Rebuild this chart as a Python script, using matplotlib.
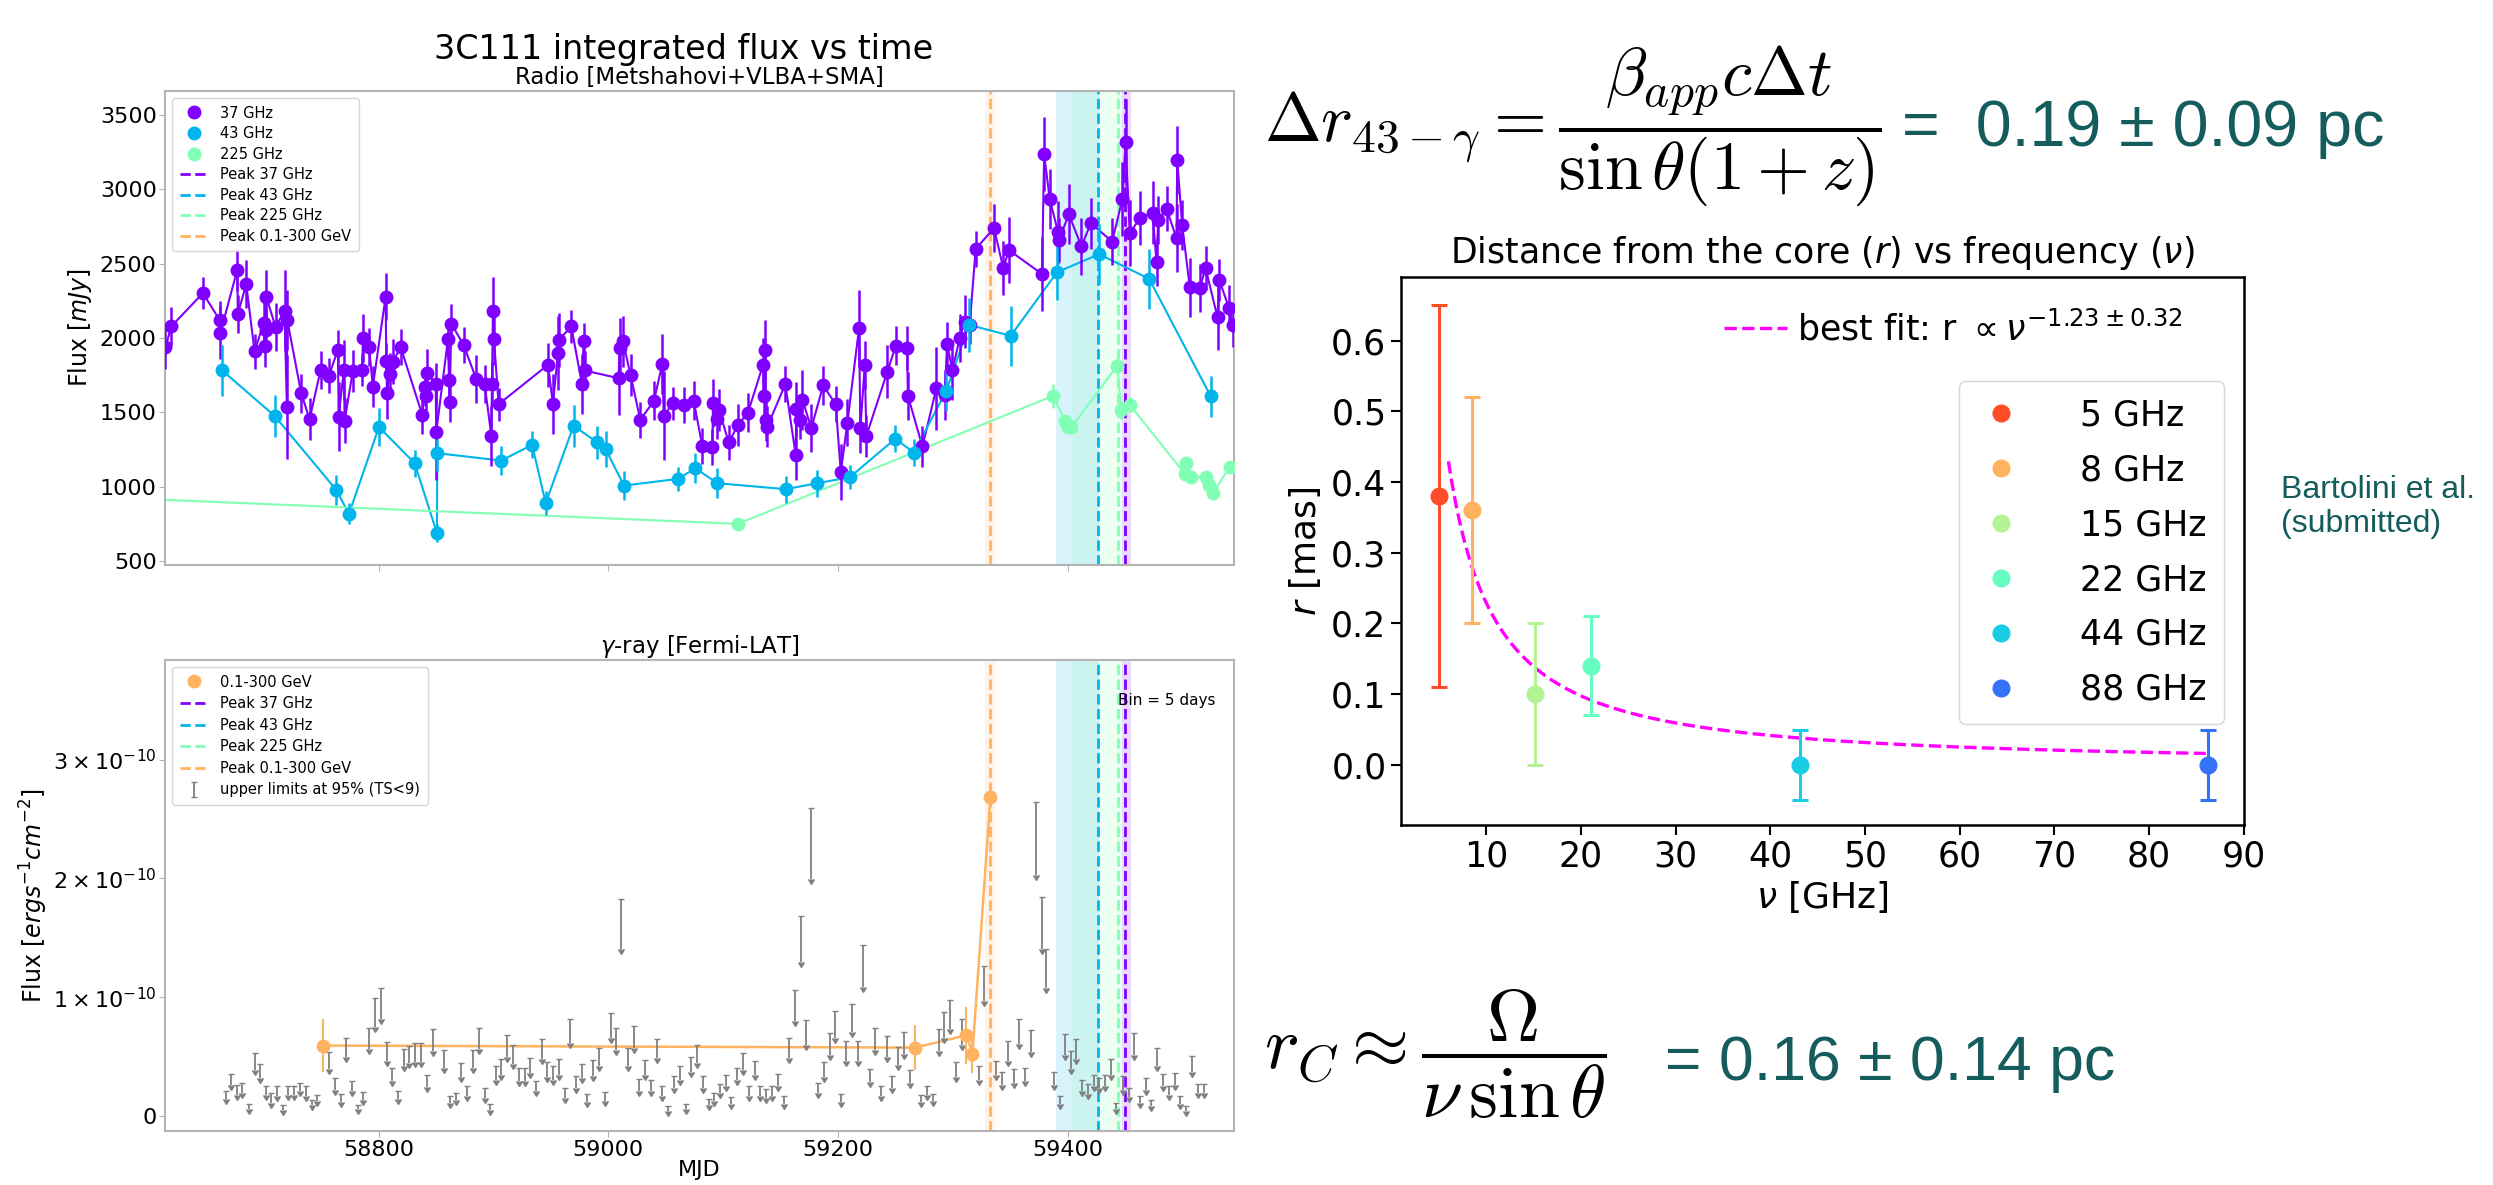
import numpy as np
import matplotlib
matplotlib.use('Agg')
import matplotlib.pyplot as plt
from matplotlib.lines import Line2D

# ---------------- radio light curves (MJD, flux in mJy) ----------------
mjd_37 = [58614.4, 58619.4, 58647.0, 58661.5, 58662.3, 58676.9, 58677.4, 58684.7, 58692.0, 58699.8,
          58700.7, 58701.6, 58702.1, 58710.3, 58718.1, 58720.1, 58720.4, 58732.6, 58739.9, 58749.5,
          58756.7, 58764.6, 58765.2, 58769.8, 58770.4, 58777.6, 58785.8, 58786.3, 58791.6, 58795.0,
          58806.1, 58806.7, 58807.3, 58809.6, 58812.5, 58819.2, 58838.0, 58840.1, 58841.5, 58842.4,
          58849.7, 58850.2, 58860.4, 58861.3, 58861.9, 58863.3, 58874.0, 58885.1, 58892.3, 58898.2,
          58898.7, 58899.6, 58900.5, 58904.5,
          58947.5, 58951.8, 58956.2, 58957.1, 58967.8, 58977.1, 58978.6, 58979.4, 59009.0, 59009.9,
          59012.8, 59019.5, 59027.9, 59039.8, 59047.1, 59048.3, 59056.4, 59065.7, 59074.4, 59081.9,
          59090.7, 59091.2, 59094.7, 59096.5, 59104.9, 59113.0, 59121.7, 59134.8, 59135.7, 59136.8,
          59137.7, 59138.6, 59154.2, 59163.2, 59163.8, 59167.3, 59169.1, 59176.9, 59187.1, 59198.1,
          59202.5, 59208.3, 59218.4, 59219.6, 59223.4, 59224.8, 59243.1, 59250.4,
          59260.2, 59261.0, 59273.6, 59285.8, 59293.0, 59295.1, 59299.7, 59306.1, 59310.5, 59314.8,
          59320.0, 59336.0, 59344.0, 59349.0, 59377.8,
          59379.6, 59384.5, 59391.8, 59392.7, 59401.1, 59412.1, 59420.3, 59438.8, 59447.8, 59450.5,
          59454.2, 59463.0, 59474.0, 59477.5, 59478.9, 59486.2, 59494.9, 59495.5, 59499.8, 59506.5,
          59515.2, 59520.2, 59530.6, 59532.1, 59540.5, 59544.3]
flux_37 = [1938, 2077, 2301, 2121, 2036, 2458, 2160, 2361, 1909, 2099,
           1947, 2054, 2278, 2072, 2184, 1534, 2121, 1628, 1453, 1785,
           1747, 1920, 1471, 1785, 1444, 1778, 1785, 1998, 1938, 1673,
           2278, 1848, 1628, 1758, 1841, 1938, 1483, 1673, 1606, 1767,
           1691, 1366, 1991, 1718, 1572, 2095, 1953, 1722, 1691, 1341,
           1691, 2178, 1991, 1554,
           1819, 1557, 1897, 1987, 2077, 1689, 1982, 1781, 1729, 1931,
           1976, 1749, 1449, 1577, 1826, 1476, 1561, 1550, 1577, 1274,
           1265, 1561, 1453, 1516, 1297, 1415, 1498, 1819, 1606, 1920,
           1449, 1404, 1689, 1214, 1521, 1449, 1583, 1393, 1680, 1554,
           1097, 1431, 2065, 1393, 1819, 1341, 1774, 1947,
           1931, 1610, 1270, 1662, 1617, 1958, 1785, 1998, 2110, 2088,
           2599, 2738, 2469, 2590, 2429,
           3235, 2933, 2709, 2659, 2832, 2615, 2771, 2648, 2933, 3314,
           2704, 2805, 2843, 2507, 2794, 2868, 2671, 3197, 2760, 2339,
           2334, 2469, 2139, 2390, 2204, 2088]
err_37 = [150, 130, 110, 130, 180, 140, 130, 160, 120, 170,
          140, 150, 180, 160, 270, 350, 200, 130, 140, 130,
          120, 130, 230, 200, 150, 140, 110, 160, 130, 140,
          160, 120, 170, 140, 150, 120, 130, 130, 110, 160,
          140, 320, 130, 150, 140, 130, 120, 160, 130, 200,
          150, 230, 170, 110,
          150, 200, 250, 180, 110, 200, 120, 130, 250, 200,
          170, 140, 120, 130, 200, 300, 110, 120, 130, 120,
          120, 160, 130, 140, 120, 140, 130, 180, 160, 200,
          140, 140, 120, 170, 180, 130, 200, 160, 130, 120,
          190, 160, 260, 170, 160, 140, 180, 130,
          150, 160, 140, 280, 170, 150, 200, 160, 180, 130,
          120, 160, 180, 220, 250,
          250, 200, 210, 150, 200, 190, 170, 160, 250, 290,
          220, 180, 210, 160, 160, 150, 230, 230, 170, 200,
          160, 150, 220, 140, 150, 150]

mjd_43 = [58663.8, 58709.4, 58763.1, 58774.2, 58800.3, 58831.4, 58850.8, 58851.1, 58906.9, 58933.7,
          58945.5, 58969.8, 58990.5, 58997.7, 59013.7, 59060.7, 59075.8, 59095.0, 59154.5, 59182.1,
          59210.3, 59249.9, 59266.3, 59294.5, 59314.2, 59350.5, 59390.9, 59427.5, 59471.1, 59524.8]
flux_43 = [1781, 1476, 978, 817, 1400, 1158, 687, 1225, 1175, 1281,
           889, 1409, 1297, 1252, 1007, 1052, 1124, 1023, 983, 1023,
           1063, 1321, 1229, 1646, 2088, 2014, 2442, 2563, 2397, 1606]
err_43 = [170, 140, 100, 70, 130, 90, 60, 120, 100, 90,
          80, 140, 110, 120, 100, 80, 100, 100, 90, 90,
          80, 90, 90, 140, 180, 200, 190, 200, 200, 140]

mjd_225 = [58540.0, 59113.0, 59387.4, 59398.1, 59400.5, 59403.4, 59443.2, 59446.9, 59454.2, 59502.1,
           59503.6, 59507.9, 59520.4, 59523.3, 59526.8, 59541.3]
flux_225 = [935, 750, 1610, 1438, 1404, 1400, 1812, 1516, 1550, 1086,
            1162, 1063, 1063, 1012, 956, 1135]
err_225 = [30, 30, 80, 40, 40, 40, 50, 60, 50, 40,
           40, 40, 40, 40, 40, 40]

# ---------------- gamma-ray (units of 1e-10 erg s^-1 cm^-2) ----------------
mjd_gam = [58751.5, 59267.5, 59312.0, 59317.2, 59332.8]
flux_gam = [0.593, 0.576, 0.68, 0.525, 2.685]
err_gam = [0.22, 0.19, 0.24, 0.16, 0.04]

ul_mjd = [58666.8, 58671.7, 58676.6, 58681.3, 58686.8, 58692.0, 58696.4, 58701.6, 58706.5, 58711.8,
          58716.7, 58721.1, 58726.3, 58731.2, 58736.4, 58742.0, 58746.6, 58756.8, 58761.7, 58766.9,
          58771.9, 58777.1, 58782.0, 58786.4, 58791.6, 58796.6, 58801.8, 58807.3, 58812.0, 58816.9,
          58821.8, 58826.5, 58831.4, 58836.6, 58842.2, 58847.4, 58857.0, 58861.9, 58867.1, 58872.1,
          58877.3, 58882.2, 58887.2, 58892.4, 58897.3, 58902.0, 58906.9, 58911.9, 58917.1, 58922.3,
          58927.2, 58932.2, 58937.4, 58942.3, 58947.0, 58951.9, 58956.9, 58962.7, 58967.0, 58972.3,
          58977.2, 58981.8, 58986.8, 58992.0, 58996.9, 59002.7, 59007.1, 59011.5, 59017.3, 59022.2,
          59026.8, 59032.4, 59037.6, 59042.5, 59047.2, 59052.1, 59057.1, 59062.3, 59067.5, 59072.4,
          59077.4, 59082.6, 59087.5, 59092.2, 59097.6, 59102.2, 59107.2, 59112.4, 59117.3, 59122.6,
          59127.5, 59132.4, 59137.7, 59142.6, 59147.8, 59152.8, 59157.4, 59162.3, 59167.7, 59172.5,
          59176.7, 59182.7, 59187.6, 59192.8, 59197.8, 59203.0, 59207.4, 59212.6, 59217.5, 59221.8,
          59227.7, 59232.6, 59237.9, 59242.8, 59247.4, 59252.7, 59257.6, 59262.5, 59272.7, 59277.6,
          59282.6, 59287.8, 59292.7, 59297.9, 59302.6, 59307.8, 59323.0, 59327.4, 59337.5, 59343.0,
          59348.2, 59353.1, 59357.8, 59362.7, 59367.9, 59372.5, 59377.4, 59381.5, 59388.0, 59393.2,
          59398.2, 59402.8, 59407.7, 59413.0, 59417.9, 59422.8, 59427.5, 59433.0, 59438.2, 59442.6,
          59448.4, 59453.3, 59458.0, 59462.9, 59467.9, 59473.1, 59478.0, 59483.2, 59488.5, 59493.4,
          59498.3, 59503.6, 59508.5, 59513.7, 59518.7]
ul_top = [0.213, 0.355, 0.257, 0.277, 0.101, 0.528, 0.436, 0.249, 0.193, 0.249,
          0.095, 0.249, 0.249, 0.277, 0.249, 0.137, 0.179, 0.542, 0.319, 0.185,
          0.654, 0.291, 0.095, 0.201, 0.743, 0.995, 1.079, 0.621, 0.408, 0.213,
          0.565, 0.593, 0.612, 0.612, 0.341, 0.729, 0.556, 0.165, 0.193, 0.445,
          0.249, 0.556, 0.743, 0.235, 0.101, 0.417, 0.478, 0.682, 0.598, 0.403,
          0.403, 0.486, 0.296, 0.648, 0.458, 0.425, 0.481, 0.235, 0.816, 0.333,
          0.439, 0.185, 0.472, 0.576, 0.201, 0.869, 0.743, 1.825, 0.576, 0.760,
          0.310, 0.472, 0.305, 0.648, 0.249, 0.081, 0.333, 0.417, 0.101, 0.500,
          0.598, 0.333, 0.145, 0.193, 0.268, 0.341, 0.157, 0.403, 0.528, 0.249,
          0.464, 0.249, 0.229, 0.249, 0.352, 0.165, 0.654, 1.059, 1.684, 0.808,
          2.591, 0.277, 0.453, 0.696, 0.883, 0.185, 0.632, 0.947, 0.632, 1.440,
          0.397, 0.738, 0.249, 0.676, 0.338, 0.584, 0.704, 0.389, 0.179, 0.249,
          0.185, 0.732, 0.878, 0.975, 0.453, 0.813, 0.417, 1.260, 0.464, 0.369,
          0.632, 0.394, 0.813, 0.408, 0.724, 2.644, 1.840, 1.410, 0.369, 0.165,
          0.688, 0.548, 0.648, 0.305, 0.268, 0.347, 0.324, 0.347, 0.481, 0.109,
          0.333, 0.235, 0.696, 0.165, 0.319, 0.137, 0.576, 0.352, 0.249, 0.360,
          0.165, 0.081, 0.506, 0.268, 0.268]
ul_len = [0.067, 0.092, 0.084, 0.084, 0.039, 0.140, 0.117, 0.070, 0.084, 0.084,
          0.042, 0.070, 0.070, 0.070, 0.084, 0.047, 0.056, 0.145, 0.098, 0.067,
          0.159, 0.084, 0.034, 0.064, 0.179, 0.243, 0.263, 0.156, 0.112, 0.067,
          0.148, 0.148, 0.154, 0.154, 0.100, 0.182, 0.154, 0.056, 0.056, 0.120,
          0.084, 0.148, 0.179, 0.084, 0.047, 0.112, 0.131, 0.182, 0.162, 0.112,
          0.112, 0.126, 0.089, 0.168, 0.126, 0.120, 0.134, 0.084, 0.204, 0.098,
          0.120, 0.067, 0.134, 0.151, 0.073, 0.215, 0.187, 0.420, 0.159, 0.190,
          0.098, 0.126, 0.092, 0.162, 0.084, 0.042, 0.098, 0.112, 0.039, 0.126,
          0.154, 0.098, 0.056, 0.070, 0.075, 0.092, 0.056, 0.098, 0.140, 0.084,
          0.123, 0.084, 0.078, 0.084, 0.103, 0.064, 0.168, 0.257, 0.390, 0.210,
          0.594, 0.084, 0.128, 0.182, 0.224, 0.067, 0.173, 0.237, 0.168, 0.350,
          0.112, 0.182, 0.084, 0.176, 0.103, 0.154, 0.184, 0.112, 0.061, 0.075,
          0.061, 0.184, 0.224, 0.243, 0.128, 0.215, 0.112, 0.295, 0.123, 0.106,
          0.168, 0.117, 0.210, 0.112, 0.187, 0.616, 0.430, 0.335, 0.106, 0.064,
          0.173, 0.151, 0.168, 0.098, 0.084, 0.098, 0.089, 0.098, 0.134, 0.047,
          0.112, 0.078, 0.182, 0.056, 0.098, 0.056, 0.151, 0.103, 0.075, 0.103,
          0.064, 0.036, 0.137, 0.075, 0.075]

# peak times and their uncertainty bands (MJD)
peak_labels = ['Peak 37 GHz', 'Peak 43 GHz', 'Peak 225 GHz', 'Peak 0.1-300 GeV']
peak_mjd = [59450.4, 59426.6, 59444.0, 59332.8]
band_lo = [59447.5, 59390.0, 59404.0, 59328.5]
band_hi = [59455.0, 59427.5, 59448.0, 59336.8]

# ---------------- core shift ----------------
freq_ghz = [5.0, 8.5, 15.1, 21.1, 43.1, 86.2]
r_mas = [0.38, 0.36, 0.10, 0.14, 0.0, 0.0]
r_err = [0.27, 0.16, 0.10, 0.07, 0.05, 0.05]
freq_labels = ['5 GHz', '8 GHz', '15 GHz', '22 GHz', '44 GHz', '88 GHz']
fit_amp = 3.89
fit_index = -1.23

rb = plt.cm.rainbow
c37, c43, c225, cgam = rb(0.0), rb(0.25), rb(0.5), rb(0.75)
peak_colors = [c37, c43, c225, cgam]
freq_colors = rb(np.linspace(0.9, 0.15, 6))
teal = '#155c5c'
spine_grey = '#b4b4b4'
ul_grey = '#808080'

fig = plt.figure(figsize=(24.93, 11.85), dpi=100)

ax1 = fig.add_axes([0.0662, 0.5232, 0.4288, 0.40])
ax2 = fig.add_axes([0.0662, 0.0452, 0.4288, 0.3979], sharex=ax1)
ax3 = fig.add_axes([0.562, 0.3038, 0.338, 0.4624])


def shade_peaks(ax):
    hs = []
    for lo, hi, c in zip(band_lo, band_hi, peak_colors):
        ax.axvspan(lo, hi, color=c, alpha=0.15, lw=0, zorder=0)
    for x, c, lab in zip(peak_mjd, peak_colors, peak_labels):
        hs.append(ax.axvline(x, color=c, ls='--', lw=2, label=lab, zorder=1))
    return hs


def sorted_xy(x, y, e):
    o = np.argsort(x)
    return np.asarray(x)[o], np.asarray(y)[o], np.asarray(e)[o]


# radio panel
h_radio = []
for xs, ys, es, c, lab in [(mjd_37, flux_37, err_37, c37, '37 GHz'),
                           (mjd_43, flux_43, err_43, c43, '43 GHz'),
                           (mjd_225, flux_225, err_225, c225, '225 GHz')]:
    x, y, e = sorted_xy(xs, ys, es)
    ax1.plot(x, y, '-', color=c, lw=1.5, zorder=2)
    ax1.errorbar(x, y, yerr=e, fmt='o', color=c, ms=9, elinewidth=1.8,
                 capsize=0, zorder=3)
    h_radio.append(Line2D([], [], marker='o', ls='none', color=c, ms=9, label=lab))
h_peaks = shade_peaks(ax1)
ax1.legend(handles=h_radio + h_peaks, loc='upper left', fontsize=10.5,
           borderpad=0.5, labelspacing=0.38, handlelength=2.0)
ax1.set_ylim(473, 3660)
ax1.set_yticks([500, 1000, 1500, 2000, 2500, 3000, 3500])
ax1.set_ylabel('Flux [$mJy$]', fontsize=17, labelpad=4)
ax1.set_title('Radio [Metshahovi+VLBA+SMA]', fontsize=16.5, pad=5)
ax1.tick_params(labelbottom=False)
fig.text(0.274, 0.9586, '3C111 integrated flux vs time', fontsize=24,
         ha='center', va='center')

# gamma panel
ax2.plot(mjd_gam, flux_gam, '-', color=cgam, lw=1.8, zorder=2)
ax2.errorbar(mjd_gam, flux_gam, yerr=err_gam, fmt='o', color=cgam,
             ms=9, elinewidth=1.5, capsize=0, zorder=3)
h_gam = Line2D([], [], marker='o', ls='none', color=cgam, ms=9, label='0.1-300 GeV')
h_ul = ax2.errorbar(ul_mjd, ul_top, yerr=ul_len, uplims=True, fmt='none',
                    color=ul_grey, ecolor=ul_grey, elinewidth=1.3, capsize=2.2,
                    label='upper limits at 95% (TS<9)', zorder=2)
h_peaks2 = shade_peaks(ax2)
ax2.legend(handles=[h_gam] + h_peaks2 + [h_ul], loc='upper left', fontsize=10.5,
           borderpad=0.5, labelspacing=0.45, handlelength=2.0)
ax2.text(0.983, 0.915, 'Bin = 5 days', transform=ax2.transAxes, fontsize=11,
         ha='right', va='center')
ax2.set_xlim(58614, 59545)
ax2.set_ylim(-0.13, 3.84)
ax2.set_yticks([0, 1, 2, 3])
ax2.set_yticklabels(['0', r'$1\times10^{-10}$', r'$2\times10^{-10}$', r'$3\times10^{-10}$'])
ax2.set_xticks([58800, 59000, 59200, 59400])
ax2.set_ylabel('Flux [$ergs^{-1}cm^{-2}$]', fontsize=17, labelpad=2)
ax2.set_xlabel('MJD', fontsize=16, labelpad=0)
ax2.set_title('$\\gamma$-ray [Fermi-LAT]', fontsize=16.5, pad=5)

for ax in (ax1, ax2):
    for s in ax.spines.values():
        s.set_color(spine_grey)
        s.set_linewidth(1.5)
    ax.tick_params(labelsize=16, color=spine_grey, length=4, pad=2)

# core shift panel
h_pts = []
for f, r, e, c, lab in zip(freq_ghz, r_mas, r_err, freq_colors, freq_labels):
    ax3.errorbar(f, r, yerr=e, fmt='o', color=c, ms=12, elinewidth=2.2,
                 capsize=6, capthick=2.2, zorder=3)
    h_pts.append(Line2D([], [], marker='o', ls='none', color=c, ms=12, label=lab))
nu = np.linspace(6.0, 86.0, 300)
fit_line, = ax3.plot(nu, fit_amp * nu ** fit_index, '--', color='magenta', lw=2.4,
                     label=r'best fit: r $\propto\nu^{-1.23\pm0.32}$', zorder=2)
leg_fit = ax3.legend(handles=[fit_line], loc='upper right', bbox_to_anchor=(0.965, 0.995),
                     frameon=False, fontsize=25, handlelength=1.8, handletextpad=0.3)
ax3.add_artist(leg_fit)
ax3.legend(handles=h_pts, loc='upper right', bbox_to_anchor=(0.977, 0.81),
           borderaxespad=0, fontsize=25, labelspacing=0.6, borderpad=0.5,
           handletextpad=1.6, handlelength=1.4)
ax3.set_xlim(1, 90)
ax3.set_ylim(-0.085, 0.69)
ax3.set_xticks([10, 20, 30, 40, 50, 60, 70, 80, 90])
ax3.set_yticks([0.0, 0.1, 0.2, 0.3, 0.4, 0.5, 0.6])
ax3.tick_params(labelsize=25, length=7, width=1.5)
for s in ax3.spines.values():
    s.set_linewidth(1.8)
ax3.set_xlabel(r'$\nu$ [GHz]', fontsize=26, labelpad=4)
ax3.set_ylabel(r'$r$ [mas]', fontsize=26, labelpad=6)
ax3.set_title(r'Distance from the core ($r$) vs frequency ($\nu$)', fontsize=25, pad=10)

fig.text(0.915, 0.572, 'Bartolini et al.\n(submitted)', color=teal, fontsize=23,
         family='Liberation Sans', ha='left', va='center', linespacing=1.15)

# equations
fig.text(0.507, 0.893, r'$\Delta r_{43-\gamma} = \dfrac{\beta_{app}c\Delta t}{\sin\theta(1+z)}$',
         fontsize=49, math_fontfamily='cm', ha='left', va='center')
fig.text(0.763, 0.877, '=  0.19 \u00b1 0.09 pc', color=teal, fontsize=46.5,
         family='Liberation Sans', ha='left', va='baseline')
fig.text(0.507, 0.110, r'$r_C \approx \dfrac{\Omega}{\nu\,\sin\theta}$',
         fontsize=53, math_fontfamily='cm', ha='left', va='center')
fig.text(0.668, 0.089, '= 0.16 \u00b1 0.14 pc', color=teal, fontsize=45,
         family='Liberation Sans', ha='left', va='baseline')

fig.savefig('out.png', dpi=100)
